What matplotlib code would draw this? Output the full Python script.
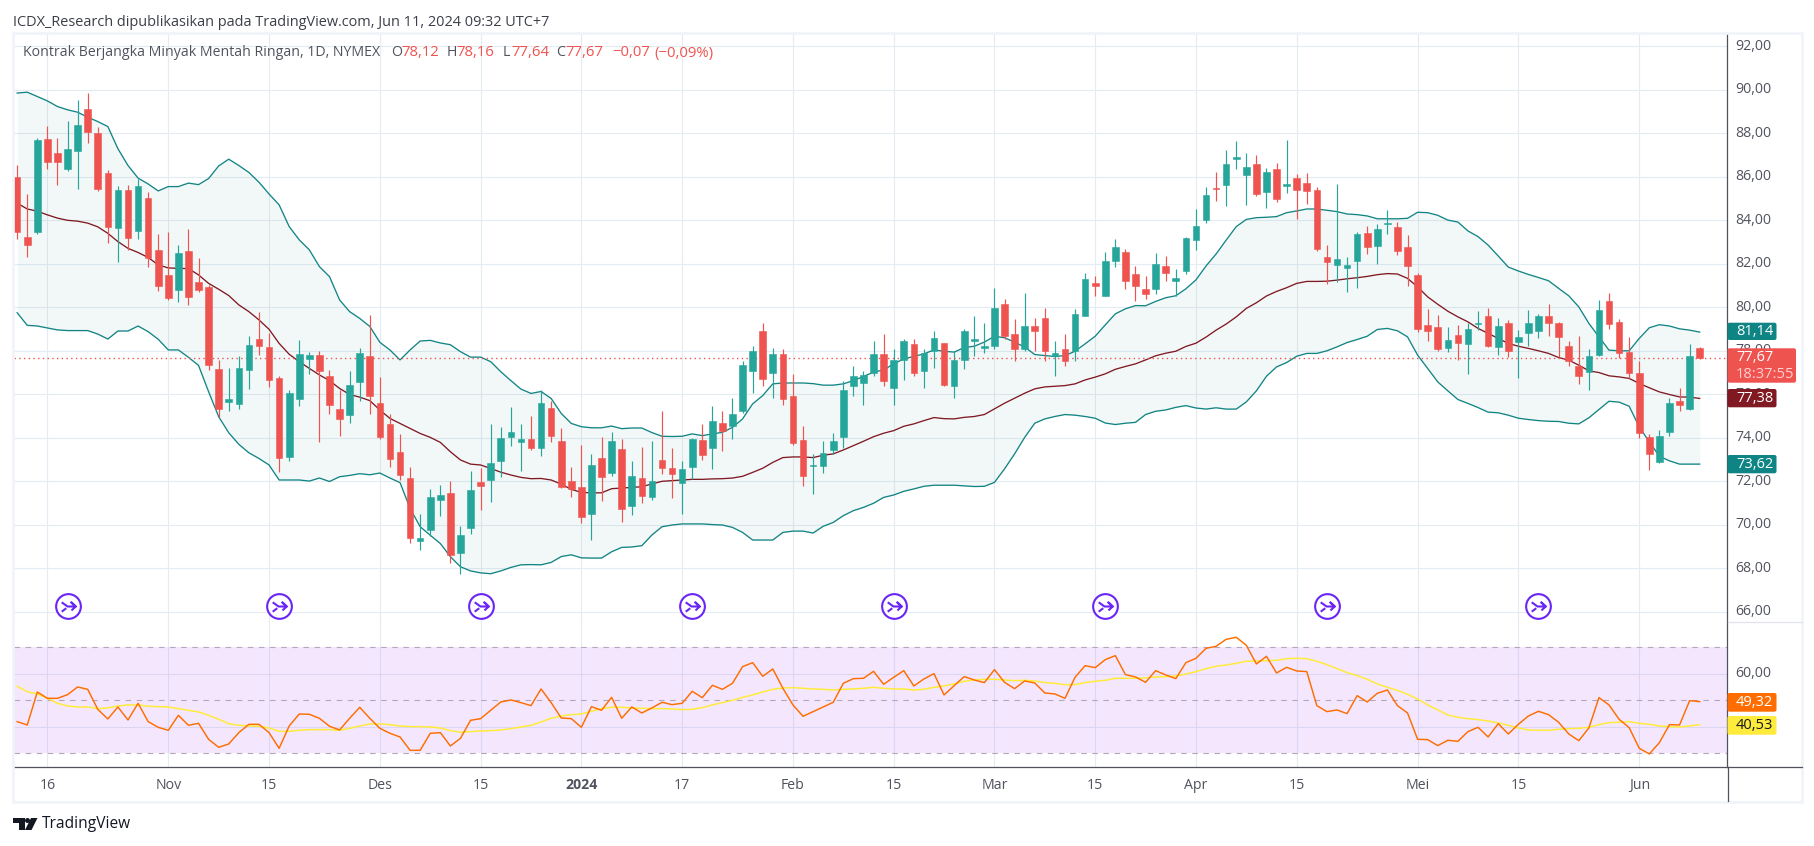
import numpy as np
import matplotlib
matplotlib.use("Agg")
import matplotlib.pyplot as plt
from matplotlib.patches import FancyBboxPatch, Polygon, Circle, Rectangle
from matplotlib.path import Path
from matplotlib.transforms import IdentityTransform, ScaledTranslation
from matplotlib.ticker import FuncFormatter

W, H = 1815, 846
FONT = "Open Sans"
plt.rcParams["font.family"] = [FONT, "DejaVu Sans"]

# daily candles (13 Oct 2023 .. 11 Jun 2024)
opens = [86.01,83.24,83.48,87.75,87.10,86.37,87.19,89.13,88.02,86.18,83.65,85.40,83.51,85.03,82.64,81.49,80.80,82.59,81.17,80.94,
         77.16,75.64,75.55,77.12,78.54,78.17,76.75,73.11,75.78,77.62,77.81,76.84,75.32,75.05,76.56,77.76,75.60,74.63,73.34,72.15,
         69.25,69.75,71.13,71.46,68.70,69.85,71.96,72.06,72.93,74.03,73.80,73.94,73.53,75.37,73.85,72.01,71.73,70.49,73.07,72.38,
         73.50,70.88,72.17,71.29,73.00,72.63,71.94,72.67,73.92,73.55,74.70,74.52,75.25,77.09,78.89,77.00,77.83,75.94,73.92,72.72,
         72.72,73.46,74.05,76.36,76.54,77.00,77.83,76.31,77.60,78.33,77.09,78.01,78.38,76.36,77.60,78.43,78.15,78.24,80.13,78.75,
         78.10,79.12,79.53,77.74,78.10,78.01,79.58,81.14,80.54,82.15,82.52,81.51,80.82,80.82,81.92,81.23,81.65,83.10,84.02,85.49,
         85.62,86.82,86.08,86.59,85.30,86.36,85.58,85.94,85.71,85.39,82.31,81.94,81.80,82.13,83.41,82.82,83.83,83.69,82.77,81.48,
         79.18,79.09,78.12,78.72,78.31,79.23,79.60,78.17,79.27,78.40,78.81,78.91,79.60,79.27,78.21,77.29,77.02,77.80,80.29,79.32,
         77.94,76.97,74.03,72.88,74.26,75.68,75.32,78.12]
highs = [86.55,85.20,87.80,88.34,87.80,88.57,89.54,89.86,88.30,86.32,85.58,85.63,85.90,85.31,83.37,83.47,82.87,83.60,82.27,81.03,
         77.58,77.20,77.76,78.68,79.79,78.82,76.84,76.20,78.50,77.94,77.99,77.12,76.20,77.07,78.13,79.65,76.79,75.09,74.17,72.65,
         70.49,71.64,71.82,72.01,69.94,72.47,72.61,74.63,74.49,75.41,74.63,75.00,76.20,75.69,74.45,72.65,73.67,73.25,74.03,74.26,
         73.96,72.95,73.60,73.83,75.25,73.55,72.95,74.00,74.65,75.48,75.25,75.85,77.51,78.24,79.30,78.15,78.10,76.95,74.52,73.27,
         73.83,74.24,76.59,77.28,77.09,78.47,78.79,78.06,78.52,78.56,78.10,78.93,78.38,78.01,79.02,79.62,79.30,80.87,80.40,79.48,
         80.68,79.53,79.99,78.47,78.75,79.90,81.60,81.46,82.52,83.12,82.66,81.92,81.46,82.48,82.38,81.74,83.21,84.52,85.53,86.22,
         87.23,87.65,87.10,87.00,86.40,86.64,87.69,86.13,86.17,85.53,82.86,85.67,82.31,83.46,83.74,83.83,84.47,83.92,83.32,81.57,
         79.92,79.64,79.09,79.18,79.27,79.82,79.96,79.50,79.41,78.95,79.87,79.69,80.15,79.32,78.45,78.67,78.08,80.33,80.65,79.46,
         78.63,77.52,74.17,74.35,75.82,76.28,78.31,78.16]
lows = [83.14,82.30,83.37,86.37,85.63,86.27,85.44,87.56,85.35,82.96,82.09,82.64,83.14,81.86,80.75,80.34,80.25,80.10,80.70,77.12,
        74.95,75.23,75.32,76.24,77.81,76.33,72.42,72.93,75.46,76.93,73.80,75.09,74.08,74.68,75.69,75.09,73.94,72.65,72.06,69.16,
        68.83,69.48,70.40,68.24,67.73,69.57,70.67,71.04,72.19,73.62,72.47,73.44,73.16,73.80,71.70,71.27,70.08,69.30,71.09,72.24,
        70.14,70.47,71.02,71.16,72.35,71.25,70.51,72.12,73.00,72.58,73.41,73.96,75.16,76.08,76.40,75.85,75.53,73.69,71.80,71.43,
        72.40,73.26,73.55,75.94,75.53,76.86,76.40,75.53,76.68,76.82,76.31,77.23,76.36,75.85,77.18,77.78,77.92,78.06,78.56,77.51,
        78.01,78.01,77.55,76.82,77.32,77.55,79.58,80.50,80.54,81.83,80.82,80.31,80.40,80.59,81.23,80.54,81.51,82.63,83.88,84.89,
        84.66,86.36,84.70,85.12,84.56,84.84,85.25,84.06,84.75,82.59,81.07,81.16,80.70,80.88,82.45,81.99,83.37,82.40,80.98,78.86,
        78.44,77.99,77.94,77.57,76.93,78.95,78.17,77.80,77.71,76.74,78.21,78.58,78.67,77.71,77.29,76.47,76.19,77.75,79.00,77.66,
        76.74,73.98,72.51,72.83,74.07,75.22,75.27,77.64]
closes = [83.48,82.87,87.70,86.66,86.66,87.29,88.39,88.07,85.44,83.70,85.40,83.19,85.58,82.27,80.98,80.43,82.50,80.48,80.80,77.35,
          75.32,75.78,77.20,78.27,78.22,76.66,73.07,76.06,77.85,77.81,77.07,75.51,74.86,76.43,77.90,75.92,74.03,73.02,72.29,69.39,
          69.39,71.27,71.37,68.60,69.52,71.60,71.78,72.84,73.99,74.26,73.94,73.53,75.60,74.08,71.73,71.64,70.35,72.75,72.19,73.85,
          70.74,72.26,71.34,72.03,72.63,72.35,72.58,73.96,73.23,74.75,74.33,75.11,77.37,78.01,76.72,77.83,75.80,73.78,72.26,72.77,
          73.32,73.87,76.22,76.86,76.91,77.87,76.59,77.60,78.47,77.00,77.92,78.61,76.45,77.60,78.89,78.56,78.24,79.99,78.70,78.10,
          79.12,78.89,77.97,77.92,77.51,79.71,81.28,81.00,82.15,82.75,81.23,81.00,80.59,81.97,81.56,81.37,83.17,83.74,85.17,85.45,
          86.59,86.91,86.45,85.21,86.22,84.98,85.67,85.39,85.35,82.68,82.08,82.22,81.94,83.37,82.77,83.60,83.87,82.59,81.90,79.00,
          78.90,78.08,78.49,78.35,79.00,79.27,78.21,79.14,77.98,78.63,79.27,79.60,79.27,78.63,77.52,76.83,77.75,79.87,79.23,77.89,
          76.97,74.21,73.25,74.07,75.59,75.50,77.75,77.67]

# Bollinger bands
bb_upper = [89.85,89.89,89.69,89.49,89.23,89.08,88.97,88.74,88.54,88.31,87.29,86.52,85.94,85.67,85.35,85.55,85.55,85.71,85.64,85.92,
            86.50,86.81,86.52,86.20,85.75,85.21,84.71,83.71,83.10,82.64,81.87,81.41,80.34,79.80,79.49,79.12,78.39,78.04,77.58,78.04,
            78.45,78.48,78.36,78.28,77.96,77.71,77.71,77.50,77.04,76.63,76.24,76.04,76.13,75.81,75.12,74.66,74.51,74.46,74.46,74.54,
            74.42,74.45,74.45,74.24,74.07,74.06,74.07,74.18,74.10,74.18,74.25,74.48,74.87,75.56,75.94,76.48,76.52,76.52,76.52,76.49,
            76.42,76.42,76.48,76.63,76.82,77.02,77.12,77.40,77.63,77.74,77.86,78.04,77.98,77.94,78.15,78.21,78.40,78.67,78.60,78.40,
            78.17,77.83,77.78,77.74,77.78,77.98,78.32,78.67,79.19,79.70,79.93,80.08,80.07,80.27,80.44,80.53,80.85,81.26,81.90,82.45,
            83.09,83.71,84.04,84.12,84.14,84.17,84.35,84.43,84.52,84.52,84.46,84.40,84.29,84.26,84.20,84.07,84.07,84.07,84.09,84.37,
            84.35,84.23,84.01,83.92,83.51,83.25,82.86,82.36,81.85,81.67,81.51,81.37,81.22,80.87,80.53,80.02,79.26,78.64,78.03,78.00,
            78.00,78.57,79.06,79.20,79.14,79.01,78.95,78.86]
bb_basis = [84.79,84.52,84.42,84.25,84.10,84.00,83.96,83.87,83.70,83.40,83.02,82.71,82.52,82.29,81.95,81.81,81.79,81.78,81.49,81.10,
            80.83,80.54,80.11,79.80,79.42,78.99,78.34,77.84,77.50,77.19,76.89,76.63,76.27,75.99,75.87,75.71,75.28,74.89,74.66,74.43,
            74.20,74.02,73.79,73.36,72.98,72.79,72.75,72.59,72.42,72.29,72.18,72.12,72.13,72.06,71.87,71.63,71.49,71.47,71.47,71.66,
            71.69,71.72,71.75,71.88,72.00,72.03,72.06,72.09,72.09,72.11,72.12,72.15,72.23,72.41,72.60,72.87,73.09,73.12,73.12,73.09,
            73.20,73.26,73.44,73.64,73.84,74.05,74.21,74.33,74.53,74.64,74.79,74.93,74.88,74.87,74.94,74.98,75.07,75.33,75.59,75.82,
            76.05,76.25,76.34,76.37,76.40,76.48,76.66,76.79,76.94,77.15,77.28,77.40,77.58,77.77,77.89,77.98,78.20,78.35,78.63,78.95,
            79.23,79.56,79.95,80.21,80.52,80.73,80.90,81.10,81.19,81.19,81.20,81.25,81.31,81.36,81.42,81.50,81.55,81.53,81.33,80.94,
            80.48,80.14,79.82,79.56,79.33,79.03,78.80,78.57,78.34,78.21,78.11,78.00,77.88,77.69,77.57,77.34,77.08,77.00,76.85,76.80,
            76.73,76.50,76.30,76.11,75.99,75.88,75.87,75.81]
bb_lower = [79.75,79.17,79.14,79.05,78.96,78.93,78.93,78.93,78.77,78.54,78.91,78.91,79.14,78.88,78.53,78.04,78.04,77.70,77.33,76.12,
            74.97,74.23,73.70,73.31,73.05,72.75,72.06,72.06,72.06,72.01,72.15,71.99,72.21,72.27,72.35,72.30,72.38,72.15,71.94,70.75,
            69.91,69.52,69.14,68.53,68.07,67.88,67.79,67.75,67.88,68.04,68.16,68.17,68.16,68.27,68.54,68.62,68.48,68.47,68.47,68.76,
            68.96,68.98,69.04,69.53,69.91,69.99,70.04,70.04,70.04,70.01,69.99,69.88,69.65,69.30,69.30,69.30,69.65,69.71,69.71,69.62,
            69.93,70.11,70.42,70.65,70.80,70.99,71.26,71.37,71.54,71.65,71.77,71.82,71.82,71.82,71.79,71.76,71.77,71.95,72.57,73.26,
            74.02,74.67,74.87,74.98,75.07,75.04,74.98,74.90,74.68,74.61,74.67,74.71,75.07,75.22,75.28,75.40,75.48,75.37,75.32,75.38,
            75.32,75.32,75.65,76.16,76.83,77.26,77.46,77.75,77.88,77.88,78.00,78.18,78.38,78.52,78.67,78.98,79.03,78.92,78.64,77.80,
            77.19,76.57,76.16,75.76,75.58,75.39,75.18,75.15,75.04,74.90,74.84,74.79,74.76,74.75,74.67,74.64,74.92,75.30,75.68,75.64,
            75.45,74.50,73.81,73.15,72.94,72.79,72.79,72.79]

# RSI and its moving average
rsi = [41.95,40.69,53.14,50.75,50.75,52.14,55.03,54.15,46.60,42.96,47.48,42.58,48.87,41.95,39.81,38.68,44.34,40.57,41.32,35.28,
       32.26,33.52,37.80,40.94,40.94,37.80,31.89,40.31,44.84,44.72,43.21,40.19,38.81,43.21,47.36,43.21,39.43,37.55,36.16,31.13,
       31.13,37.55,37.80,32.77,35.66,42.45,43.08,46.23,49.37,50.13,49.12,47.99,54.28,49.12,43.33,43.08,39.81,47.61,46.23,51.13,
       43.21,47.48,45.22,47.11,49.25,48.36,48.87,53.40,51.00,55.66,54.15,56.42,62.70,64.21,59.06,61.82,54.53,48.24,43.96,45.72,
       47.48,49.25,56.42,58.18,58.30,60.94,56.04,58.68,61.19,55.41,58.05,60.06,52.01,55.53,58.93,57.67,56.67,61.57,56.79,54.40,
       57.30,56.54,52.77,52.39,50.75,58.68,63.08,62.33,65.35,66.86,59.69,58.81,56.79,61.19,59.56,58.18,64.21,65.85,69.62,70.38,
       73.02,73.77,70.75,63.71,66.60,60.31,62.45,61.07,60.82,47.99,45.72,46.35,44.97,51.76,49.37,52.64,53.90,47.99,45.22,35.28,
       35.16,32.89,34.91,34.53,38.18,39.81,36.16,41.19,37.30,40.94,44.09,45.85,44.59,41.70,37.30,34.78,39.56,51.00,48.24,42.83,
       39.69,31.89,29.75,34.03,40.82,40.69,49.87,49.50]
rsi_ma = [55.28,53.27,52.39,50.75,48.87,47.86,47.48,47.48,46.86,47.11,47.86,48.24,48.24,47.74,47.61,47.48,46.86,46.23,45.60,44.34,
          42.83,41.19,40.57,40.31,40.19,39.56,38.30,38.30,38.68,38.93,38.93,38.93,38.68,39.43,40.31,41.07,41.07,40.82,40.31,40.06,
          40.06,39.94,39.56,38.55,37.92,38.18,38.43,38.55,38.81,39.31,39.94,40.57,41.82,43.21,44.09,44.59,44.84,45.85,46.86,47.36,
          47.36,47.11,46.98,46.86,46.86,46.73,46.48,46.60,47.23,48.24,49.12,50.00,51.13,52.01,53.14,54.15,54.65,54.78,54.53,54.28,
          54.15,53.90,54.15,54.28,54.53,54.91,54.53,54.28,54.28,53.90,54.15,54.91,55.41,56.16,57.17,57.67,57.92,57.92,57.67,57.42,
          57.55,57.30,56.67,56.42,55.91,55.91,56.67,57.17,57.55,58.30,58.30,58.30,58.43,58.81,58.93,59.18,59.94,60.82,61.95,62.83,
          63.33,63.96,64.72,64.84,64.97,65.09,65.72,65.85,65.72,64.72,63.46,61.95,60.44,59.31,57.92,56.16,54.91,53.77,52.26,50.50,
          48.24,46.35,44.47,43.58,43.08,42.70,42.20,41.45,40.57,39.56,38.81,38.68,38.68,39.06,39.31,39.43,39.81,40.82,41.57,41.70,
          41.95,41.32,40.94,40.31,40.06,39.94,40.31,40.82]

tick_bars = [3, 15, 25, 36, 46, 56, 66, 77, 87, 97, 107, 117, 127, 139, 149, 161]
tick_labels = ["16", "Nov", "15", "Des", "15", "2024", "17", "Feb", "15", "Mar", "15", "Apr", "15", "Mei", "15", "Jun"]
event_bars = [5, 26, 46, 67, 87, 108, 130, 151]
price_ticks = list(range(66, 93, 2))

TEAL, RED = "#26a69a", "#ef5350"
BAND, BASIS = "#138484", "#801922"
GRID = "#e3ecf2"
TXT = "#50535e"
PURPLE = "#6a24f5"
FS = 10.2

# pixel layout of the two panes
PX_L, PX_R = 14.0, 1727.5
PX_TOP, PX_MID, PX_BOT = 33.5, 622.3, 767.3
BAR0, BAR_STEP = 17.175, 10.075


def comma(v, _=None):
    return f"{v:.2f}".replace(".", ",")


def px_text(x, y, s, **kw):
    kw.setdefault("va", "center")
    kw.setdefault("fontsize", FS)
    kw.setdefault("color", TXT)
    return fig.text(x / W, 1 - y / H, s, **kw)


def px_box(x0, y0, x1, y1, color):
    fig.add_artist(FancyBboxPatch((x0, H - y1), x1 - x0, y1 - y0, boxstyle="round,pad=0,rounding_size=2",
                                  transform=IdentityTransform(), fc=color, ec="none", zorder=2))


fig = plt.figure(figsize=(W / 100, H / 100), dpi=100, facecolor="white")
ax = fig.add_axes([PX_L / W, 1 - PX_MID / H, (PX_R - PX_L) / W, (PX_MID - PX_TOP) / H])
ax2 = fig.add_axes([PX_L / W, 1 - PX_BOT / H, (PX_R - PX_L) / W, (PX_BOT - PX_MID) / H])

x = np.arange(len(closes))
o, h, l, c = map(np.array, (opens, highs, lows, closes))
cols = np.where(c >= o, TEAL, RED)
xlim = ((PX_L - BAR0) / BAR_STEP, (PX_R - BAR0) / BAR_STEP)

# --- price pane
ax.set_axisbelow(True)
ax.grid(True, color=GRID, lw=0.8)
ax.fill_between(x, bb_lower, bb_upper, color=BAND, alpha=0.05, lw=0, zorder=1)
ax.plot(x, bb_upper, color=BAND, lw=0.95, zorder=2)
ax.plot(x, bb_lower, color=BAND, lw=0.95, zorder=2)
ax.plot(x, bb_basis, color=BASIS, lw=0.95, zorder=2)
ax.vlines(x, l, h, colors=cols, lw=0.85, zorder=3)
ax.bar(x, np.abs(c - o), bottom=np.minimum(o, c), width=0.66, color=cols, edgecolor=cols, lw=0.4, zorder=4)
ax.axhline(closes[-1], color=RED, lw=1.0, ls=(0, (1, 2.4)), zorder=3)

# news/event icons along the bottom of the pane
glyph = Path.make_compound_path(
    Path.unit_circle(),
    Path([(-0.55, 0.34), (-0.08, 0.0), (0.58, 0.0), (0.24, 0.32), (0.58, 0.0), (0.24, -0.32)],
         [Path.MOVETO] + [Path.LINETO] * 5),
    Path([(-0.55, -0.42), (-0.18, -0.14)], [Path.MOVETO, Path.LINETO]),
)
tr = ax.get_xaxis_transform()
ev_y = [(PX_MID - 605.7) / (PX_MID - PX_TOP)] * len(event_bars)
ax.plot(event_bars, ev_y, ls="none", marker="o", ms=17.5, mfc="white", mec="none", transform=tr, zorder=5)
ax.plot(event_bars, ev_y, ls="none", marker=glyph, ms=17.8, mfc="none", mec=PURPLE, mew=1.5, transform=tr, zorder=6)

ax.set_xlim(*xlim)
ax.set_ylim(88 - (PX_MID - 133.3) / 21.75, 88 + (133.3 - PX_TOP) / 21.75)
ax.set_xticks(tick_bars)
ax.set_yticks(price_ticks)
ax.yaxis.set_major_formatter(FuncFormatter(comma))
ax.yaxis.tick_right()
ax.tick_params(axis="x", length=0, labelbottom=False)
ax.tick_params(axis="y", length=0, pad=5.5, labelsize=FS, labelcolor=TXT)
for s in ("top", "left"):
    ax.spines[s].set_visible(False)
ax.spines["bottom"].set_color("#e0e3eb")
ax.spines["right"].set_color("#50535e")
ax.spines["right"].set_linewidth(0.9)

# --- RSI pane
ax2.set_axisbelow(True)
ax2.grid(True, color=GRID, lw=0.8)
ax2.axhspan(30, 70, color="#9c27f5", alpha=0.11, lw=0, zorder=1)
for lvl in (70, 50, 30):
    ax2.axhline(lvl, color="#b2a8bc", lw=0.8, ls=(0, (5, 5)), zorder=1.5)
ax2.plot(x, rsi_ma, color="#ffeb3b", lw=1.1, zorder=2)
ax2.plot(x, rsi, color="#ff6d00", lw=1.05, zorder=3)
ax2.set_xlim(*xlim)
ax2.set_ylim(50 - (PX_BOT - 700.3) / 2.65, 50 + (700.3 - PX_MID) / 2.65)
ax2.set_yticks([40, 60], labels=["", "60,00"])
ax2.yaxis.tick_right()
ax2.set_xticks(tick_bars, labels=tick_labels)
for lab in ax2.get_xticklabels():
    if lab.get_text() == "2024":
        lab.set_fontweight("bold")
ax2.tick_params(axis="x", length=0, pad=7.5, labelsize=FS, labelcolor=TXT)
ax2.tick_params(axis="y", length=0, pad=5.5, labelsize=FS, labelcolor=TXT)
ax2.spines["top"].set_visible(False)
ax2.spines["left"].set_visible(False)
ax2.spines["bottom"].set_color("#50535e")
ax2.spines["bottom"].set_linewidth(0.9)
ax2.spines["right"].set_color("#50535e")
ax2.spines["right"].set_linewidth(0.9)

# price labels sit a little above their grid lines
nudge = ScaledTranslation(0, 2 / 100, fig.dpi_scale_trans)
for a in (ax, ax2):
    for lab in a.get_yticklabels():
        lab.set_transform(lab.get_transform() + nudge)

# axis strip: extends the separators to the outer frame and down to the bottom
fig.add_artist(plt.Line2D([PX_R, PX_R], [H - PX_BOT, H - 801], transform=IdentityTransform(), color="#50535e", lw=0.9))
fig.add_artist(plt.Line2D([PX_R, 1802], [H - PX_BOT, H - PX_BOT], transform=IdentityTransform(), color="#50535e", lw=0.9))
fig.add_artist(plt.Line2D([PX_R, 1802], [H - PX_MID, H - PX_MID], transform=IdentityTransform(), color="#e0e3eb", lw=0.9))
fig.add_artist(Rectangle((12.5, H - 801.5), 1789.5, 769, transform=IdentityTransform(), fc="none", ec="#f0f3fa", lw=1.9))

# --- texts
px_text(13, 23, "ICDX_Research dipublikasikan pada TradingView.com, Jun 11, 2024 09:32 UTC+7", fontsize=10.48, color="#3c3f48")
px_text(23, 53, "Kontrak Berjangka Minyak Mentah Ringan, 1D, NYMEX", fontsize=FS)
for xp, s, col in [(391.5, "O", TXT), (401, comma(opens[-1]), RED), (447, "H", TXT), (456.5, comma(highs[-1]), RED),
                   (503, "L", TXT), (511, comma(lows[-1]), RED), (556.5, "C", TXT), (565, comma(closes[-1]), RED),
                   (612, "\u22120,07", RED), (654, "(\u22120,09%)", RED)]:
    px_text(xp, 53, s, fontsize=10.7 if col == RED else FS, color=col)

# value tags on the price axis
for y0, y1, col, s, tc in [(322.7, 340, "#0f8484", "81,14", "white"), (389, 407.3, "#801922", "77,38", "white"),
                           (455, 473.3, "#0f8484", "73,62", "white"), (693, 711.7, "#ff6d00", "49,32", "white"),
                           (716, 734.7, "#ffeb3b", "40,53", "#131722")]:
    px_box(PX_R, y0, 1776.5, y1, col)
    px_text(1736, (y0 + y1) / 2, s, color=tc, fontsize=10.5)
px_box(PX_R, 348.3, 1796, 382.7, RED)
px_text(1736, 357, "77,67", color="white", fontsize=10.5)
px_text(1736, 374, "18:37:55", color="#ffd0cf", fontsize=10.5)

# logo
ic = IdentityTransform()
fig.add_artist(Polygon([(13, H - 818), (24.5, H - 818), (24.5, H - 830), (18.5, H - 830), (18.5, H - 823), (13, H - 823)],
                       transform=ic, fc="#131722", ec="none"))
fig.add_artist(Circle((27.5, H - 820.5), 2.5, transform=ic, fc="#131722", ec="none"))
fig.add_artist(Polygon([(31, H - 818), (37.5, H - 818), (31.5, H - 830), (25, H - 830)], transform=ic, fc="#131722", ec="none"))
px_text(42, 824, "TradingView", fontsize=11.2, color="#131722")

fig.savefig("out.png", dpi=100, facecolor="white")
